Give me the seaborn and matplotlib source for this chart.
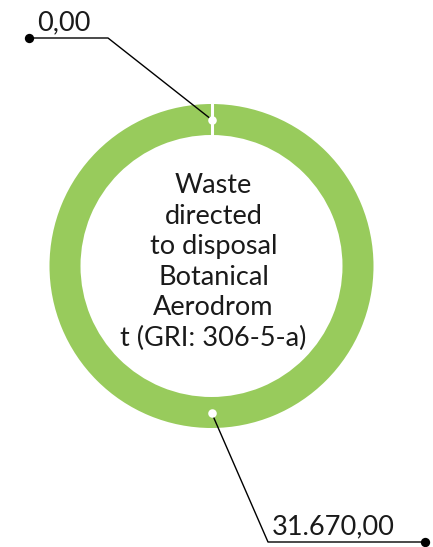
import numpy as np
import matplotlib
matplotlib.use("Agg")
import matplotlib.pyplot as plt
import seaborn as sns

# Waste directed to disposal, Botanical Aerodrom (t)
categories = ["Hazardous", "Non-hazardous"]
values = [0.00, 31670.00]
value_labels = ["0,00", "31.670,00"]
center_title = "Waste\ndirected\nto disposal\nBotanical\nAerodrom\nt (GRI: 306-5-a)"

sns.set_theme(style="white")
plt.rcParams["font.family"] = ["Lato", "DejaVu Sans"]

W, H = 433, 547
fig = plt.figure(figsize=(W / 100, H / 100), dpi=100)
ax = fig.add_axes([0, 0, 1, 1])

green = "#98CB5C"
cx, cy = 211.5, H - 266
r_out, width = 162, 31
r_in = r_out - width

ax.pie(values, colors=[green, green], startangle=90, counterclock=False,
       radius=r_out, center=(cx, cy), frame=False,
       wedgeprops=dict(width=width, edgecolor="none", linewidth=0))
ax.set_xlim(0, W)
ax.set_ylim(0, H)
ax.set_aspect("equal")
ax.axis("off")

# white separators at the wedge boundaries
total = sum(values)
bounds = 90 - np.cumsum([0] + values) / total * 360
for b in np.unique(np.round(bounds % 360, 6)):
    c, s = np.cos(np.radians(b)), np.sin(np.radians(b))
    ax.plot([cx + (r_in - 1) * c, cx + (r_out + 1) * c],
            [cy + (r_in - 1) * s, cy + (r_out + 1) * s],
            color="white", lw=2.2, zorder=2, solid_capstyle="butt")

ax.text(cx + 2, H - 262, center_title, ha="center", va="center", fontsize=19.5,
        color="#1a1a1a", linespacing=1.27)

# callouts from the middle of each wedge
cum = np.cumsum([0] + values[:-1])
mids = 90 - (cum + np.array(values) / 2) / total * 360
r_mid = r_out - width / 2

# elbow / end points of the leader lines and label anchors (pixels from top-left)
leaders = [((108, 38), (29, 38), (37, 30)),
           ((268, 542), (425, 542), (272, 534))]

for ang, lab, (elbow, end, txt) in zip(mids, value_labels, leaders):
    px = cx + r_mid * np.cos(np.radians(ang))
    py = cy + r_mid * np.sin(np.radians(ang))
    ex, ey = elbow[0], H - elbow[1]
    dx, dy = end[0], H - end[1]
    ax.plot([px, ex, dx], [py, ey, dy], color="black", lw=1.0, zorder=3)
    ax.scatter([px], [py], s=38, color="white", zorder=4, linewidths=0)
    ax.scatter([dx], [dy], s=45, color="black", zorder=4, linewidths=0)
    ax.text(txt[0], H - txt[1], lab, ha="left", va="baseline", fontsize=19.5,
            color="#1a1a1a")

fig.savefig("out.png", dpi=100)
